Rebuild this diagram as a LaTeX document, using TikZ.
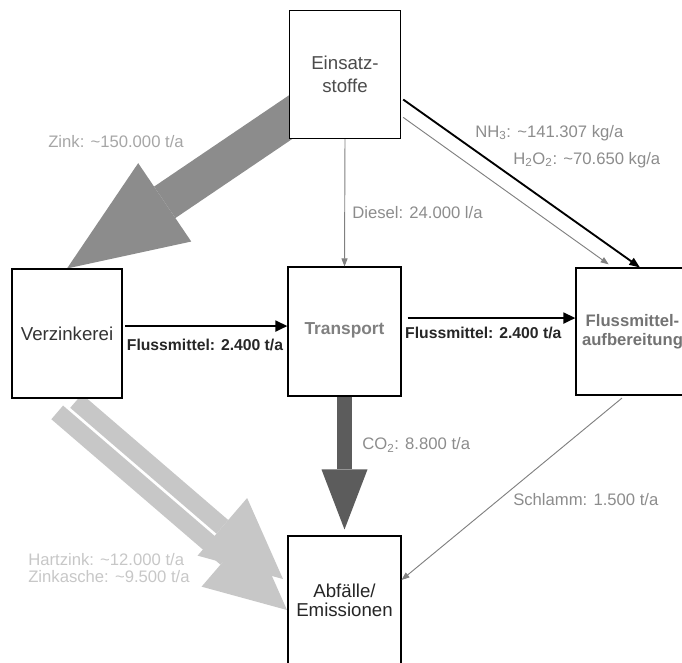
\documentclass[tikz,border=0pt]{standalone}
\usepackage{fontspec}
\setmainfont{Liberation Sans}
\usetikzlibrary{arrows.meta}
\pgfdeclarelayer{back}
\pgfsetlayers{back,main}
\tikzset{
    stoffbox/.style = {rectangle, draw=black, line width=0.8pt, fill=white, align=center, inner sep=0pt, font=\fontsize{14}{14.5}\selectfont},
    lblg/.style = {anchor=west, inner sep=0pt, text=black!45, font=\fontsize{12.5}{15}\selectfont},
    lblz/.style = {lblg, text=black!35},
    lblh/.style = {lblg, text=black!22},
    lblb/.style = {inner sep=0pt, text=black!85, font=\bfseries\fontsize{11.8}{14}\selectfont},
    edgeb/.style = {line width=1.9pt, black, -{Triangle[length=9pt,width=8pt]}},
    edgek/.style = {line width=1.4pt, black, -{Triangle[length=8pt,width=6pt]}},
    edgeg/.style = {line width=0.7pt, black!50, -{Triangle[length=6pt,width=4.5pt]}},
    blockz/.style = {line width=28.5pt, black!45, -{Triangle[length=88.5pt,width=71pt,line width=0pt]}}, % zink
    blockh/.style = {line width=13.5pt, black!22, -{Triangle[length=60pt,width=57pt,line width=0pt]}}, % hartzink, zinkasche
    blockc/.style = {line width=11.25pt, black!64, -{Triangle[length=45pt,width=34.5pt,line width=0pt]}} % co2
}
\begin{document}
\begin{tikzpicture}[x=0.75pt, y=-0.75pt]
  \useasboundingbox (0,0) rectangle (682,662);
  \clip (0,0) rectangle (682,662);
  % boxes
  \node[stoffbox, minimum width=83.25pt, minimum height=96pt, text=black!70] (einsatz) at (345,74.5) {Einsatz-\\[3pt]stoffe};
  \node[stoffbox, minimum width=82.5pt, minimum height=96.75pt, text=black!80] (verz) at (67,333.5) {Verzinkerei};
  \node[stoffbox, minimum width=84.75pt, minimum height=96.75pt, text=black!50, font=\bfseries\fontsize{13}{13}\selectfont] (transport) at (344.5,331.5) {\raisebox{4pt}{Transport}};
  \node[stoffbox, minimum width=84.75pt, minimum height=95.25pt, text=black!55, font=\bfseries\fontsize{12.5}{14}\selectfont] (fluss) at (632.5,331.5) {Flussmittel-\\aufbereitung};
  \node[stoffbox, minimum width=84.75pt, minimum height=96.75pt, text=black!85] (abfall) at (344.5,600.5) {Abfälle/\\Emissionen};

  \coordinate (zs) at (310,104);
  \coordinate (hu) at (76.1,401);
  \coordinate (hl) at (57.2,412.4);
  \coordinate (hut) at (283,579);
  \coordinate (hlt) at (287,610);
  \begin{pgfonlayer}{back}
    \draw[blockz] (zs) -- (verz.north);
    \draw[blockh] (hu) -- (hut);
    \draw[blockh] (hl) -- (hlt);
  \end{pgfonlayer}
  \draw[blockc] (transport.south) -- ([yshift=4.5pt]abfall.north);

  \coordinate (v1) at ([yshift=5.6pt]verz.east);
  \coordinate (t1) at ([yshift=10.1pt]transport.east);
  \draw[edgeb, shorten <=2pt] (v1) -- node[lblb, below=9pt] {Flussmittel: 2.400 t/a} (v1 -| transport.west);
  \draw[edgeb, shorten <=4.5pt] (t1) -- node[lblb, below=6pt, pos=0.47] {Flussmittel: 2.400 t/a} (t1 -| fluss.west);
  \draw[edgeg] (einsatz.south) -- (transport.north);
  \draw[edgek, shorten <=2pt] ([yshift=-17.6pt]einsatz.east) -- ([xshift=5.6pt]fluss.north);
  \draw[edgeg, shorten <=2pt, shorten >=4pt] ([yshift=-31pt]einsatz.east) -- ([xshift=-14.6pt]fluss.north);
  \draw[edgeg, shorten <=3pt] ([xshift=-5.6pt]fluss.south) -- ([yshift=15.4pt]abfall.east);

  % labels
  \node[lblz] (zinklbl) at (48,142) {Zink: \textasciitilde150.000 t/a};
  \node[lblg] (nhlbl) at (475,133) {NH\textsubscript{3}: \textasciitilde141.307 kg/a};
  \node[lblg] (hlbl) at (513,160) {H\textsubscript{2}O\textsubscript{2}: \textasciitilde70.650 kg/a};
  \node[lblg] (diesellbl) at (352,213) {Diesel: 24.000 l/a};
  \node[lblg] (colbl) at (362,445) {CO\textsubscript{2}: 8.800 t/a};
  \node[lblg] (schlammlbl) at (513,500) {Schlamm: 1.500 t/a};
  \node[lblh] (hartlbl) at (28,560) {Hartzink: \textasciitilde12.000 t/a};
  \node[lblh] (aschelbl) at (28,577) {Zinkasche: \textasciitilde9.500 t/a};
\end{tikzpicture}
\end{document}
